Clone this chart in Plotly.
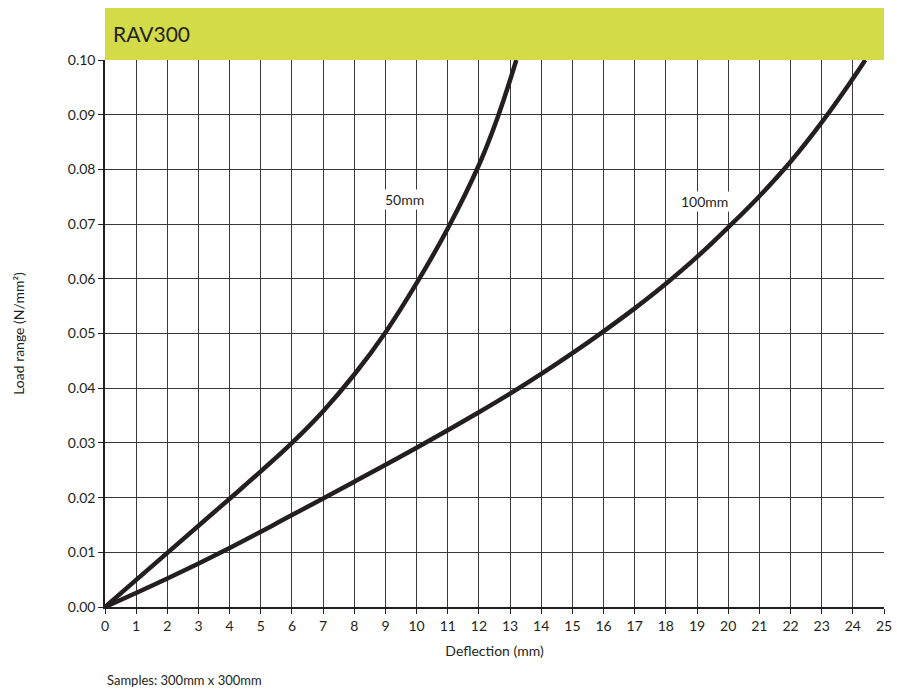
import plotly.graph_objects as go

# Deflection (mm) against load (N/mm²) for each sample thickness
defl_50mm = [0.0, 2.0, 4.0, 5.0, 6.0, 7.0, 8.0, 9.0, 10.0, 11.0, 12.0, 12.6, 13.2]
load_50mm = [0.0, 0.0099, 0.0198, 0.0248, 0.0300, 0.0358, 0.0425, 0.0502, 0.0592, 0.0692,
             0.0808, 0.0895, 0.100]

defl_100mm = [0.0, 2.0, 4.0, 6.0, 8.0, 10.0, 12.0, 13.0, 14.0, 15.0, 16.0, 17.0, 18.0, 19.0,
              20.0, 21.0, 22.0, 23.0, 24.0, 24.4]
load_100mm = [0.0, 0.0052, 0.0108, 0.0168, 0.0229, 0.0291, 0.0356, 0.0390, 0.0426, 0.0464,
              0.0504, 0.0546, 0.0591, 0.0640, 0.0694, 0.0751, 0.0814, 0.0886, 0.0966, 0.100]

x_ticks = list(range(0, 26))
y_ticks = [round(v * 0.01, 2) for v in range(0, 11)]

FONT = "Lato, 'Open Sans', sans-serif"
INK = "#231f20"

fig = go.Figure()
for name, d, l in (("50mm", defl_50mm, load_50mm), ("100mm", defl_100mm, load_100mm)):
    fig.add_trace(go.Scatter(
        x=d, y=l, mode="lines", name=name,
        line=dict(color=INK, width=4.5, shape="spline", smoothing=1.2),
        showlegend=False, hoverinfo="skip",
    ))

axis_common = dict(
    showgrid=True, gridcolor="#3a3a3a", gridwidth=1,
    showline=True, linecolor=INK, linewidth=1.5,
    ticks="outside", ticklen=5, tickcolor=INK,
    tickfont=dict(family=FONT, size=14, color=INK),
    zeroline=False, automargin=False,
)

fig.update_xaxes(
    range=[0, 25], tickvals=x_ticks,
    title=dict(text="Deflection (mm)", font=dict(family=FONT, size=14, color=INK), standoff=14),
    **axis_common,
)
fig.update_yaxes(
    range=[0, 0.10], tickvals=y_ticks, tickformat=".2f",
    title=dict(text="Load range (N/mm²)", font=dict(family=FONT, size=14, color=INK), standoff=40),
    **axis_common,
)

plot_h = 693 - 60 - 86
band = 52 / plot_h

fig.add_shape(type="rect", xref="paper", yref="paper",
              x0=0, x1=1, y0=1, y1=1 + band,
              fillcolor="#D3DB48", line=dict(width=0), layer="below")

fig.add_annotation(xref="paper", yref="paper", x=0.008, y=1 + band / 2,
                   text="RAV300", showarrow=False, xanchor="left", yanchor="middle",
                   font=dict(family=FONT, size=21, color=INK))

# Curve labels
fig.add_annotation(x=9.6, y=0.0745, text="50mm", showarrow=False,
                   bgcolor="white", borderpad=1,
                   font=dict(family=FONT, size=14, color=INK))
fig.add_annotation(x=19.25, y=0.0742, text="100mm", showarrow=False,
                   bgcolor="white", borderpad=1,
                   font=dict(family=FONT, size=14, color=INK))

fig.add_annotation(xref="paper", yref="paper", x=0, y=-(680 - 607) / plot_h,
                   text="Samples: 300mm x 300mm", showarrow=False,
                   xanchor="left", yanchor="middle",
                   font=dict(family=FONT, size=13, color=INK))

fig.update_layout(
    width=897, height=693,
    margin=dict(l=105, r=13, t=60, b=86),
    paper_bgcolor="white", plot_bgcolor="white",
)

fig.write_html("out.html")
